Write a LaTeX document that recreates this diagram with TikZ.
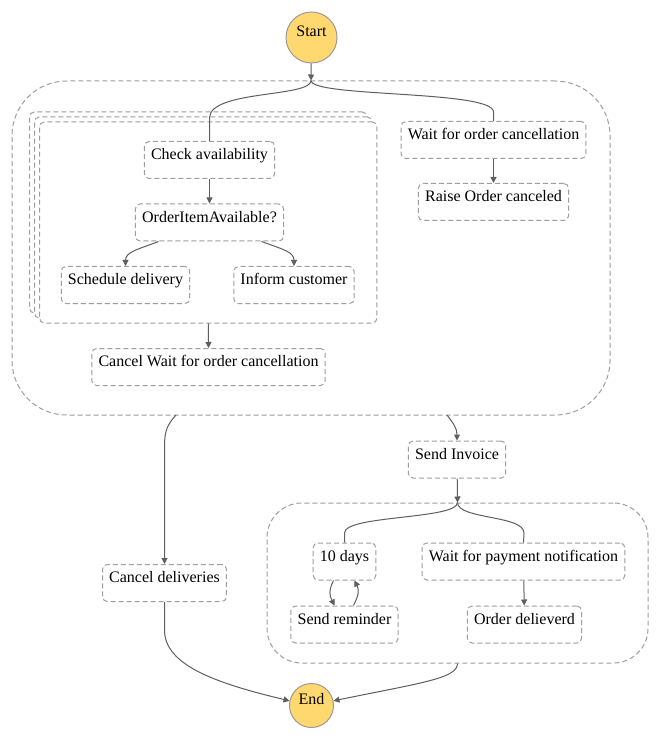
\documentclass[tikz,border=0pt]{standalone}
\usepackage{fontspec}
\setmainfont{Liberation Serif}
\newfontfamily\lserif{Liberation Serif}
\usetikzlibrary{arrows.meta,calc}
\definecolor{boxgray}{HTML}{9E9E9E}
\definecolor{linegray}{HTML}{5F5F5F}
\definecolor{startfill}{HTML}{FFD970}
\definecolor{circgray}{HTML}{999999}
\begin{document}
\begin{tikzpicture}[x=0.75pt,y=-0.75pt,
  every node/.style={font=\lserif\fontsize{12}{14}\selectfont},
  state/.style={draw=boxgray, line width=0.75pt, dash pattern=on 3.75pt off 2.25pt,
    rounded corners=3.5pt, fill=white, inner xsep=5pt, inner ysep=0pt,
    minimum height=27.75pt, text height=8.3pt, text depth=8.6pt},
  container/.style={draw=boxgray, line width=0.75pt, dash pattern=on 3.75pt off 2.25pt,
    fill=white, inner sep=0pt},
  mapbox/.style={container, rounded corners=3.5pt, minimum width=253pt, minimum height=150.75pt},
  term/.style={circle, draw=circgray, fill=startfill, line width=0.75pt, inner sep=0pt,
    text height=8pt, text depth=8.9pt},
  conn/.style={draw=linegray, line width=0.75pt},
  arr/.style={conn, -{Triangle[length=4.5pt,width=4.5pt]}}
]
\fill[white] (0,0) rectangle (661,741);
\useasboundingbox (0,0) rectangle (661,741);

% containers
\node[container, rounded corners=41pt, minimum width=448.5pt, minimum height=250.5pt] (par1) at (311,248) {};
\node[mapbox] (mapb2) at (198.25,212.5) {};
\node[mapbox] (mapb1) at (203.25,217.5) {};
\node[mapbox] (map) at (208.25,222.5) {};
\node[container, rounded corners=26pt, minimum width=285.75pt, minimum height=120pt] (par2) at (457.5,583) {};

% terminals
\node[term, minimum size=38.25pt] (start) at (311.5,37.5) {Start};
\node[term, minimum size=33pt] (end) at (311.5,705.5) {End};

% states
\node[state] (check) at (209.5,160) {Check availability};
\node[state] (oia) at (209.5,222.5) {OrderItemAvailable?};
\node[state] (sched) at (125.5,285) {Schedule delivery};
\node[state] (inform) at (294,285) {Inform customer};
\node[state] (cancelwait) at (208.5,367) {Cancel Wait for order cancellation};
\node[state] (waitcancel) at (493.5,140) {Wait for order cancellation};
\node[state] (raise) at (493.5,202) {Raise Order canceled};
\node[state] (invoice) at (457,459.5) {Send Invoice};
\node[state] (tendays) at (344.5,561.5) {10 days};
\node[state] (waitpay) at (523.5,561.5) {Wait for payment notification};
\node[state] (remind) at (344.5,624.5) {Send reminder};
\node[state] (delivered) at (524.5,624.5) {Order delieverd};
\node[state] (canceldel) at (164.5,583) {Cancel deliveries};

% connectors
\draw[arr] (start) -- (par1.north);
\draw[conn] (par1.north) .. controls ($(par1.north)+(0,17)$) and (209.5,90) .. (209.5,118) -- (check.north);
\draw[conn] (par1.north) .. controls ($(par1.north)+(0,17)$) and (493.5,90) .. (493.5,112) -- (waitcancel.north);
\draw[arr] (check) -- (oia);
\draw[arr] ($(oia.south)+(-51,0)$) .. controls ($(oia.south)+(-72,8)$) and ($(sched.north)+(0,-14)$) .. (sched.north);
\draw[arr] ($(oia.south)+(52,0)$) .. controls ($(oia.south)+(74,8)$) and ($(inform.north)+(0,-14)$) .. (inform.north);
\draw[arr] (map.south) -- (cancelwait.north);
\draw[arr] (waitcancel) -- (raise);
\draw[arr] (176,415) .. controls (168,424) and (164.5,430) .. (164.5,446) -- (canceldel.north);
\draw[arr] (447,415) .. controls (453,423) and (457,428) .. (invoice.north);
\draw[arr] (invoice) -- (par2.north);
\draw[conn] (par2.north) .. controls ($(par2.north)+(0,17)$) and (344.5,515) .. (344.5,533) -- (tendays.north);
\draw[conn] (par2.north) .. controls ($(par2.north)+(0,17)$) and (524,515) .. (524,533) -- (waitpay.north);
\draw[arr] (waitpay) -- (delivered);
\draw[arr] ($(tendays.south)+(-11,0)$) .. controls ($(tendays.south)+(-16,10)$) and ($(remind.north)+(-15,-10)$) .. ($(remind.north)+(-10,0)$);
\draw[arr] ($(remind.north)+(9,0)$) .. controls ($(remind.north)+(14,-10)$) and ($(tendays.south)+(15,10)$) .. ($(tendays.south)+(10,0)$);
\draw[arr] (canceldel.south) -- (164.5,630) .. controls (164.5,665) and (215,683) .. (end.168);
\draw[arr] (par2.south) .. controls ($(par2.south)+(0,15)$) and (420,683) .. (end.12);
\end{tikzpicture}
\end{document}
